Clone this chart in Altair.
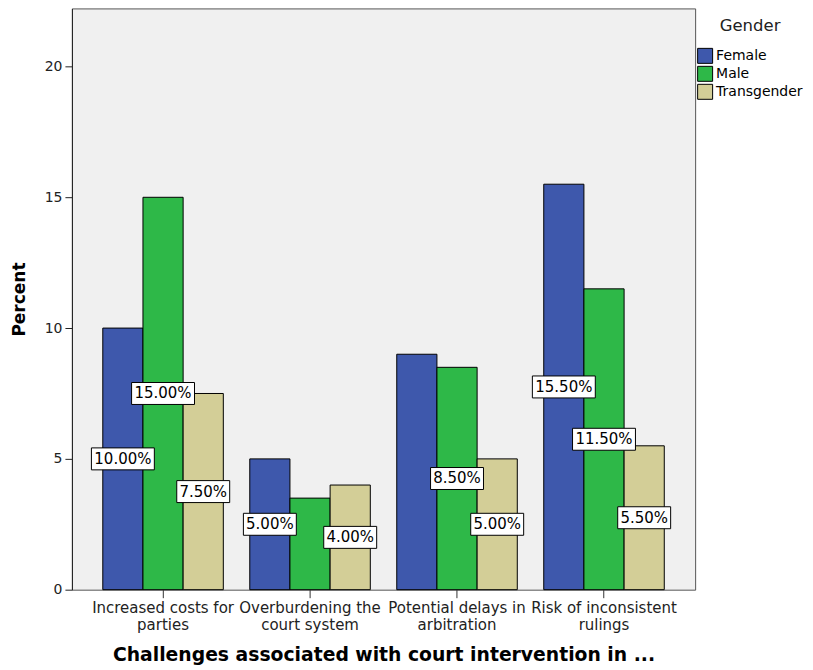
import altair as alt
import pandas as pd

category_lines = [
    ["Increased costs for", "parties"],
    ["Overburdening the", "court system"],
    ["Potential delays in", "arbitration"],
    ["Risk of inconsistent", "rulings"],
]
categories = [" ".join(l) for l in category_lines]
genders = ["Female", "Male", "Transgender"]
female = [10.0, 5.0, 9.0, 15.5]
male = [15.0, 3.5, 8.5, 11.5]
transgender = [7.5, 4.0, 5.0, 5.5]
shown = {
    "Female": [True, True, False, True],
    "Male": [True, False, True, True],
    "Transgender": [True, True, True, True],
}
colors = ["#3E58AC", "#2EB848", "#D3CE97"]
y_ticks = [0, 5, 10, 15, 20]

rows = []
for g, vals in zip(genders, [female, male, transgender]):
    for c, v, s in zip(categories, vals, shown[g]):
        lab = f"{v:.2f}%"
        rows.append({"category": c, "gender": g, "value": v,
                     "label": lab, "show": s, "long": len(lab) > 5})
df = pd.DataFrame(rows)

label_expr = " : ".join(
    f"datum.label == '{c}' ? ['{l[0]}', '{l[1]}']" for c, l in zip(categories, category_lines)
) + " : datum.label"

FONT = "DejaVu Sans"
yscale = alt.Scale(domain=[0, 22.22], nice=False)
yaxis = alt.Axis(title="Percent", titleFont=FONT, titleFontSize=17,
                 titleFontWeight="bold", titleColor="black", titlePadding=16,
                 labelFont=FONT, labelFontSize=14, labelColor="#222",
                 values=y_ticks, tickSize=7, tickColor="#222",
                 domainColor="#222", labelPadding=3, grid=False)

base = alt.Chart(df).encode(
    x=alt.X("category:N", sort=categories,
            scale=alt.Scale(paddingInner=0.18, paddingOuter=0.21),
            axis=alt.Axis(title="Challenges associated with court intervention in ...",
                          titleFont=FONT, titleFontSize=18.8, titleFontWeight="bold",
                          titleColor="black", titlePadding=13,
                          labelFont=FONT, labelFontSize=15, labelColor="#222",
                          labelAngle=0, labelLineHeight=17, labelPadding=3,
                          labelExpr=label_expr, tickSize=8, tickColor="#333",
                          domain=False, grid=False)),
    xOffset=alt.XOffset("gender:N", sort=genders,
                        scale=alt.Scale(paddingInner=0, paddingOuter=0)),
)

bars = base.mark_bar(stroke="black", strokeWidth=1).encode(
    y=alt.Y("value:Q", scale=yscale, axis=yaxis),
    color=alt.Color("gender:N", scale=alt.Scale(domain=genders, range=colors),
                    legend=alt.Legend(title="Gender", titleFont=FONT, titleFontSize=16.5,
                                      titleFontWeight="normal", titleColor="#222",
                                      titleAnchor="middle", titlePadding=13,
                                      labelFont=FONT, labelFontSize=14, labelColor="black",
                                      symbolType="square", symbolSize=225,
                                      symbolStrokeColor="black", symbolStrokeWidth=1,
                                      symbolOpacity=1, rowPadding=-2, labelOffset=3,
                                      orient="none", legendX=626, legendY=10)),
)

lab_base = base.transform_filter("datum.show").transform_calculate(mid="datum.value / 2")

box_long = lab_base.transform_filter("datum.long").mark_point(
    shape="M-1,-0.349H1V0.349H-1Z", size=63 * 63, filled=True, fill="white",
    stroke="black", strokeWidth=1, opacity=1,
).encode(y=alt.Y("mid:Q", scale=yscale, axis=yaxis))

box_short = lab_base.transform_filter("!datum.long").mark_point(
    shape="M-1,-0.415H1V0.415H-1Z", size=53 * 53, filled=True, fill="white",
    stroke="black", strokeWidth=1, opacity=1,
).encode(y=alt.Y("mid:Q", scale=yscale, axis=yaxis))

texts = lab_base.mark_text(font=FONT, fontSize=15, color="black").encode(
    y=alt.Y("mid:Q", scale=yscale, axis=yaxis), text="label:N")

chart = alt.layer(bars, box_long, box_short, texts).properties(
    width=624, height=582,
    padding={"left": 2, "top": 0, "right": 2, "bottom": 2},
).configure_view(fill="#F0F0F0", stroke="#555", strokeWidth=1)

chart.save("out.html", embed_options={"renderer": "svg", "actions": False})
